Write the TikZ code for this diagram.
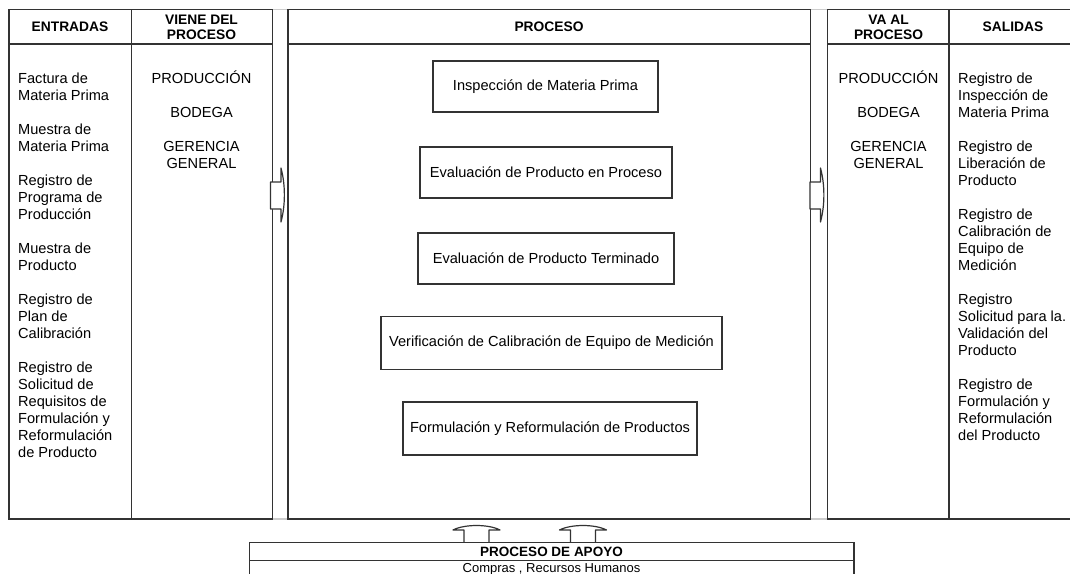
\documentclass[tikz,border=0pt]{standalone}
\usepackage{fontspec}
\setmainfont{Liberation Sans}
\usetikzlibrary{positioning}

\tikzset{
  marco/.style={line width=1.2pt,draw=black!80},
  caja/.style={marco,minimum height=51pt,inner sep=0pt,font=\fontsize{14.6}{17}\selectfont},
  titulo/.style={align=center,inner sep=0pt,font=\bfseries\fontsize{13.8}{15}\selectfont},
  lista/.style={inner sep=0pt,font=\fontsize{14.6}{17}\selectfont},
  flecha/.style={line width=1.2pt,draw=black!80,fill=white,line join=round},
}
\newcommand{\salto}{\\[17pt]}

\begin{document}
\begin{tikzpicture}[x=1pt,y=-1pt]
	\clip (0,0) rectangle (1070,573);
	% marco gris de fondo
	\draw[gray!40,line width=1.2pt] (9,9.5) -- (1078,9.5) (9,519) -- (1078,519);

	% tablas
	\draw[marco] (9,9.5) rectangle (272.5,519) (9,44) -- (272.5,44) (131.5,9.5) -- (131.5,519);
	\draw[marco] (288,9.5) rectangle (810.5,519) (288,44) -- (810.5,44);
	\draw[marco] (827.5,9.5) rectangle (1078,519) (827.5,44) -- (1078,44) (949,9.5) -- (949,519);

	\node[titulo] (tentradas) at (70,27) {ENTRADAS};
	\node[titulo] (tviene) at (201.5,27) {VIENE DEL\\PROCESO};
	\node[titulo] (tproceso) at (549,27) {PROCESO};
	\node[titulo] (tva) at (888.5,27) {VA AL\\PROCESO};
	\node[titulo] (tsalidas) at (1013,27) {SALIDAS};

	% el ancla base es la de la ultima linea
	\node[lista,anchor=base west,align=left] (entradas) at (18,457) {Factura de\\Materia Prima\salto Muestra de\\Materia Prima\salto Registro de\\Programa de\\Producción\salto Muestra de\\Producto\salto Registro de\\Plan de\\Calibración\salto Registro de\\Solicitud de\\Requisitos de\\Formulación y\\Reformulación\\de Producto};
	\node[lista,anchor=base,align=center] (viene) at (201.5,168) {PRODUCCIÓN\salto BODEGA\salto GERENCIA\\GENERAL};
	\node[lista,anchor=base,align=center] (va) at (888.5,168) {PRODUCCIÓN\salto BODEGA\salto GERENCIA\\GENERAL};
	\node[lista,anchor=base west,align=left] (salidas) at (958,440) {Registro de\\Inspección de\\Materia Prima\salto Registro de\\Liberación de\\Producto\salto Registro de\\Calibración de\\Equipo de\\Medición\salto Registro\\Solicitud para la.\\Validación del\\Producto\salto Registro de\\Formulación y\\Reformulación\\del Producto};

	% actividades del proceso
	\node[caja,minimum width=225pt] (inspeccion) at (545.5,86.5) {Inspección de Materia Prima};
	\node[caja,minimum width=252pt] (evalproceso) at (546,172.5) {Evaluación de Producto en Proceso};
	\node[caja,minimum width=256pt] (evalterminado) at (546,258.5) {Evaluación de Producto Terminado};
	\node[caja,minimum width=341pt,minimum height=53pt] (verificacion) at (551.5,343) {Verificación de Calibración de Equipo de Medición};
	\node[caja,minimum width=294pt,minimum height=53pt] (formulacion) at (550,428.5) {Formulación y Reformulación de Productos};

	% flechas
	\foreach \x in {270.5,810} \draw[flecha] (\x,209) -- (\x,182) -- (\x+10.5,182) -- (\x+10.5,168) .. controls (\x+15,185) and (\x+15,205) .. (\x+10.5,222) -- (\x+10.5,209) -- cycle;
	\foreach \x in {476.5,583} \draw[flecha] (\x-12.5,542.7) -- (\x-12.5,530) -- (\x-23.5,530) .. controls (\x-12,524) and (\x+12,524) .. (\x+23.5,530) -- (\x+12.5,530) -- (\x+12.5,542.7);

	% proceso de apoyo
	\draw[marco] (249.5,542.7) rectangle (854,590) (249.5,560.7) -- (854,560.7);
	\node[titulo,font=\bfseries\fontsize{13.5}{15}\selectfont] (apoyo) at (551.5,552) {PROCESO DE APOYO};
	\node[lista,anchor=base,font=\fontsize{13}{15}\selectfont] (compras) at (551.5,572) {Compras , Recursos Humanos};
\end{tikzpicture}
\end{document}
